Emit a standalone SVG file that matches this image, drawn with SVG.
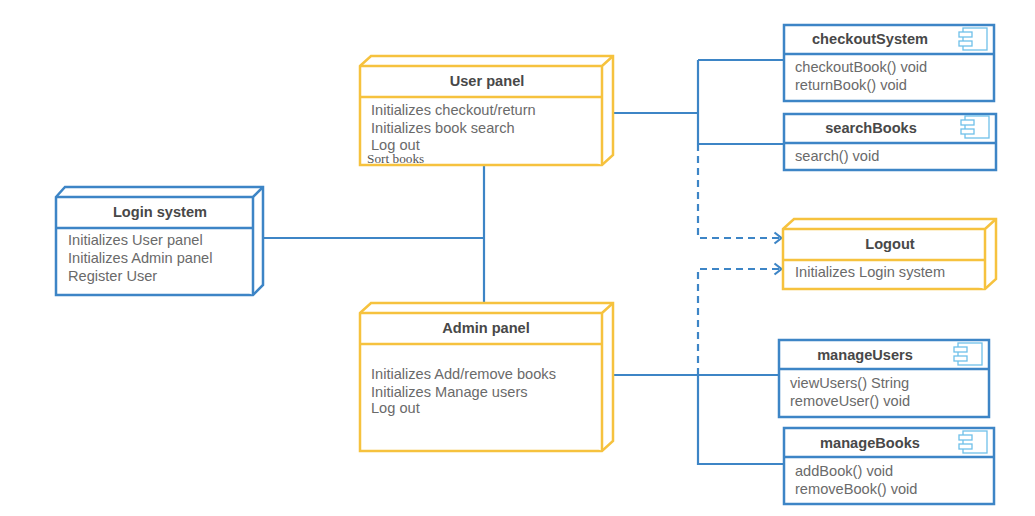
<svg xmlns="http://www.w3.org/2000/svg" width="1035" height="516" viewBox="0 0 1035 516">
<defs>
<marker id="arrow" markerUnits="userSpaceOnUse" markerWidth="12" markerHeight="14" refX="9.5" refY="7" orient="auto"><path d="M2 1.5L9 7L2 12.5" fill="none" stroke="#3d85c6" stroke-width="2.2"/></marker>
<g id="icon"><rect x="4" y="0" width="24" height="22" fill="#fff" stroke="#6fc0ea" stroke-width="1.3"/><rect x="0" y="4" width="13" height="5" fill="#fff" stroke="#6fc0ea" stroke-width="1.3"/><rect x="0" y="13" width="13" height="5" fill="#fff" stroke="#6fc0ea" stroke-width="1.3"/></g>
</defs>
<style>
text{font-family:"Liberation Sans",Arial,sans-serif;font-size:14.6px;fill:#6a6a6a}
.t{font-weight:700;fill:#484848;text-anchor:middle}
.b{fill:#fff;stroke:#3d85c6;stroke-width:2.5}
.y{fill:#fff;stroke:#f6c23e;stroke-width:2.5}
.s{font-family:"Liberation Serif",serif;font-size:13.3px;fill:#555}
.c{fill:none;stroke:#3d85c6;stroke-width:2.2}
</style>
<rect width="1035" height="516" fill="#fff"/>
<g id="connectors">
<path class="c" d="M263 238H484M484 165V302"/>
<path class="c" d="M613 113H698M698 60V144M698 60H784M698 144H784"/>
<path class="c" d="M613 375H698M698 375V464H784M698 375H779"/>
<path class="c" stroke-dasharray="7 5" marker-end="url(#arrow)" d="M698 144V238H782"/>
<path class="c" stroke-dasharray="7 5" marker-end="url(#arrow)" d="M698 375V269H782"/>
</g>
<g id="login-system">
<path class="b" d="M56 197L65 187H263V285L253 295H56Z"/><path class="b" d="M56 197H253V295M253 197L263 187M56 228H253"/>
<text class="t" x="160" y="217">Login system</text>
<text x="68" y="245">Initializes User panel</text><text x="68" y="263">Initializes Admin panel</text><text x="68" y="281">Register User</text>
</g>
<g id="user-panel">
<path class="y" d="M360 66L371 56H613V155L602 165H360Z"/><path class="y" d="M360 66H602V165M602 66L613 56M360 97H602"/>
<text class="t" x="487" y="86">User panel</text>
<text x="371" y="115">Initializes checkout/return</text><text x="371" y="133">Initializes book search</text><text x="371" y="149.5">Log out</text>
<text class="s" x="367" y="162.5">Sort books</text>
</g>
<g id="admin-panel">
<path class="y" d="M360 313L371 303H613V441L602 451H360Z"/><path class="y" d="M360 313H602V451M602 313L613 303M360 344H602"/>
<text class="t" x="486" y="333">Admin panel</text>
<text x="371" y="379">Initializes Add/remove books</text><text x="371" y="397">Initializes Manage users</text><text x="371" y="413">Log out</text>
</g>
<g id="logout">
<path class="y" d="M783 229L794 219H996V279L985 289H783Z"/><path class="y" d="M783 229H985V289M985 229L996 219M783 260H985"/>
<text class="t" x="890" y="249">Logout</text>
<text x="795" y="277">Initializes Login system</text>
</g>
<g id="checkout-system">
<rect class="b" x="784" y="25" width="210" height="76"/><path class="b" d="M784 54H994"/>
<text class="t" x="870" y="44">checkoutSystem</text><use href="#icon" x="959" y="28"/>
<text x="795" y="72">checkoutBook() void</text><text x="795" y="90">returnBook() void</text>
</g>
<g id="search-books">
<rect class="b" x="784" y="114" width="212" height="56"/><path class="b" d="M784 143H996"/>
<text class="t" x="871" y="133">searchBooks</text><use href="#icon" x="961" y="116"/>
<text x="795" y="161">search() void</text>
</g>
<g id="manage-users">
<rect class="b" x="779" y="340" width="210" height="77"/><path class="b" d="M779 369H989"/>
<text class="t" x="865" y="360">manageUsers</text><use href="#icon" x="954" y="343"/>
<text x="790" y="388">viewUsers() String</text><text x="790" y="406">removeUser() void</text>
</g>
<g id="manage-books">
<rect class="b" x="784" y="428" width="210" height="76"/><path class="b" d="M784 457H994"/>
<text class="t" x="870" y="448">manageBooks</text><use href="#icon" x="959" y="431"/>
<text x="795" y="476">addBook() void</text><text x="795" y="494">removeBook() void</text>
</g>
</svg>
